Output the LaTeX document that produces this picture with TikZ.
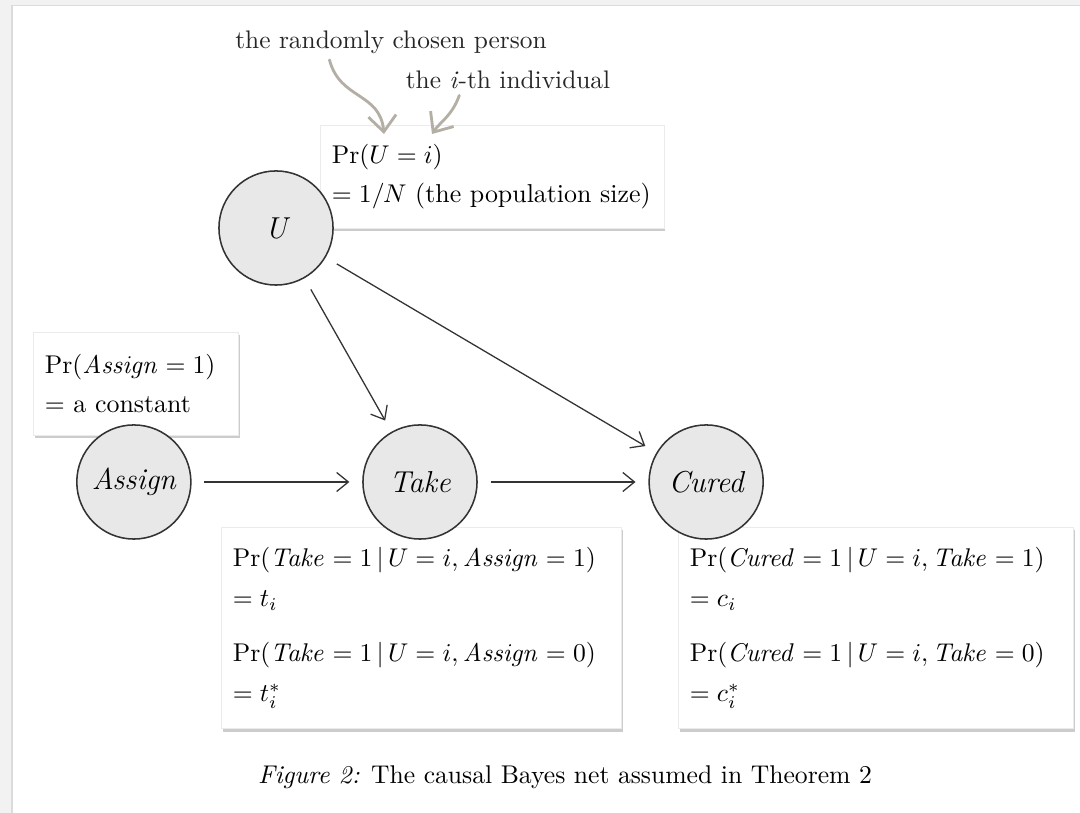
\documentclass[tikz,border=0pt]{standalone}
\usepackage{amsmath}
\usepackage{tikz}
\usetikzlibrary{arrows.meta,positioning,shadows}

\definecolor{callgray}{RGB}{180,175,165}

\begin{document}
\begin{tikzpicture}[
    x=0.39pt, y=-0.39pt,
    font=\fontsize{10.1}{15.5}\selectfont,
    node distance=66.5pt,
    var/.style={circle, draw=black!80, line width=0.6pt, fill=black!9,
        minimum size=44.5pt, inner sep=0pt, font=\fontsize{11.8}{14}\selectfont\itshape},
    cpt/.style={draw=black!8, fill=white, line width=0.3pt, align=left,
        anchor=north west, inner xsep=4.5pt, inner ysep=2pt,
        drop shadow={opacity=0.4, shadow xshift=0.5pt, shadow yshift=-1.2pt}},
    note/.style={text=black!85, font=\fontsize{9.9}{12}\selectfont},
    arrow/.style={-{Straight Barb[length=1.6mm,width=2.6mm]}, line width=0.5pt,
        draw=black!80, shorten <=5pt, shorten >=5pt},
    callout/.style={-{Straight Barb[length=2.2mm,width=3.8mm]}, line width=1.1pt,
        draw=callgray, line cap=round},
]
\useasboundingbox (0,0) rectangle (1080,813);
% page and its edge
\fill[black!5] (0,0) rectangle (1080,813);
\fill[black!14] (11,5) rectangle (1080,813);
\fill[white] (12.5,6.5) rectangle (1080,813);

% conditional probability tables (drawn first, the variables sit on top)
\node[cpt, text width=125pt, minimum height=40pt] (ubox) at (320,125)
  {$\Pr(U = i)$\\ $= 1/N$ (the population size)};
\node[cpt, text width=71pt, minimum height=40pt] (abox) at (33,332)
  {$\Pr(\mathit{Assign} = 1)$\\ $=$ a constant};
\node[cpt, text width=147pt, minimum height=78.5pt] (tbox) at (221,527)
  {$\Pr(\mathit{Take} = 1\,|\,U = i, \mathit{Assign} = 1)$\\
   $= t_i$\\[6pt]
   $\Pr(\mathit{Take} = 1\,|\,U = i, \mathit{Assign} = 0)$\\
   $= t_i^{*}$};
\node[cpt, text width=145pt, minimum height=78.5pt] (cbox) at (678,527)
  {$\Pr(\mathit{Cured} = 1\,|\,U = i, \mathit{Take} = 1)$\\
   $= c_i$\\[6pt]
   $\Pr(\mathit{Cured} = 1\,|\,U = i, \mathit{Take} = 0)$\\
   $= c_i^{*}$};

% the variables
\node[var] (take) at (420,482) {Take};
\node[var, left=of take]  (assign) {Assign};
\node[var, right=of take] (cured)  {Cured};
\node[var] (u) at (276,228) {U};

\draw[arrow] (u) -- (take);
\draw[arrow] (u) -- (cured);
\draw[arrow] (assign) -- (take);
\draw[arrow] (take) -- (cured);

% remarks on the table of U
\node[note] (chosen) at (391,42) {the randomly chosen person};
\node[note] (indiv) at (508,80) {the \textit{i}-th individual};
\coordinate (uvar) at (384,134);
\coordinate (ival) at (432,134);
\draw[callout] ([xshift=-24pt,yshift=1pt]chosen.south)
  .. controls (340,100) and (380,92) .. (uvar);
\draw[callout] ([xshift=-19pt,yshift=1pt]indiv.south)
  .. controls (452,116) and (440,122) .. (ival);

\node (caption) at (565,777)
  {\fontsize{10}{12}\selectfont\textit{Figure 2:} The causal Bayes net assumed in Theorem 2};
\end{tikzpicture}
\end{document}
